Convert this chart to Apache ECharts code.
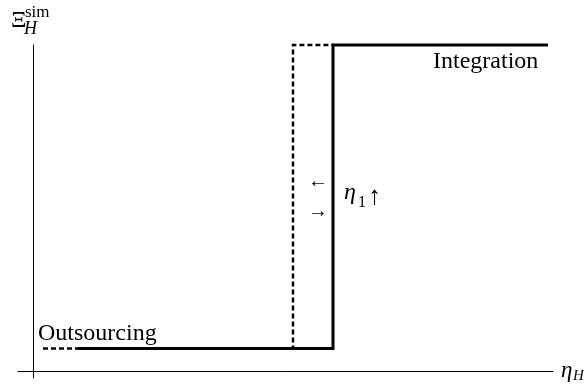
<!DOCTYPE html>
<html>
<head>
<meta charset="utf-8">
<script src="https://cdn.jsdelivr.net/npm/echarts@6/dist/echarts.min.js"></script>
<style>html,body{margin:0;padding:0;background:#fff;}#c{width:584px;height:385px;}</style>
</head>
<body>
<div id="c"></div>
<script>
// Data (abstract units)
const solidX = [0.9, 6.0, 6.0, 10.3];
const solidY = [0.07, 0.07, 1.0, 1.0];
const dashedX = [0.2, 5.2, 5.2, 6.0];
const dashedY = [0.07, 0.07, 1.0, 1.0];
const labelOutsourcing = 'Outsourcing';
const labelIntegration = 'Integration';

const SERIF = '"Liberation Serif", "DejaVu Serif", serif';
const chart = echarts.init(document.getElementById('c'), null, {renderer: 'canvas'});

function txt(text, x, y, size, italic) {
  return {
    type: 'text', x: x, y: y, silent: true,
    style: {text: text, fill: '#000', font: (italic ? 'italic ' : '') + size + 'px ' + SERIF, verticalAlign: 'top', align: 'left'}
  };
}

chart.setOption({
  animation: false,
  backgroundColor: '#fff',
  grid: {left: 18, right: 31, top: 45, bottom: 7, containLabel: false},
  xAxis: {
    type: 'value', min: -0.3, max: 10.4,
    axisLine: {show: true, onZero: true, lineStyle: {color: '#000', width: 1}},
    axisTick: {show: false}, axisLabel: {show: false}, splitLine: {show: false}
  },
  yAxis: {
    type: 'value', min: -0.02, max: 1.0,
    axisLine: {show: true, onZero: true, lineStyle: {color: '#000', width: 1}},
    axisTick: {show: false}, axisLabel: {show: false}, splitLine: {show: false}
  },
  series: [
    {
      type: 'line', clip: false, symbol: 'none', z: 2,
      data: dashedX.map((x, i) => [x, dashedY[i]]),
      lineStyle: {color: '#000', width: 2.5, type: [5, 3], join: 'miter', cap: 'butt'}
    },
    {
      type: 'line', clip: false, symbol: 'none', z: 3,
      data: solidX.map((x, i) => [x, solidY[i]]),
      lineStyle: {color: '#000', width: 3, type: 'solid', join: 'miter'}
    }
  ],
  graphic: [
    txt('\u039E', 11, 9, 24, false),
    txt('sim', 25, 4, 17, false),
    txt('H', 24, 20, 18, true),
    txt('\u03B7', 561, 359, 23, true),
    txt('H', 573, 369, 15, true),
    txt(labelIntegration, 433, 50, 24, false),
    txt(labelOutsourcing, 38, 322, 24, false),
    txt('\u2190', 308, 172, 20, false),
    txt('\u2192', 308, 202, 20, false),
    txt('\u03B7', 344, 181, 24, true),
    txt('1', 358, 195, 16, false),
    txt('\u2191', 368, 184, 26, false)
  ]
});
</script>
</body>
</html>
